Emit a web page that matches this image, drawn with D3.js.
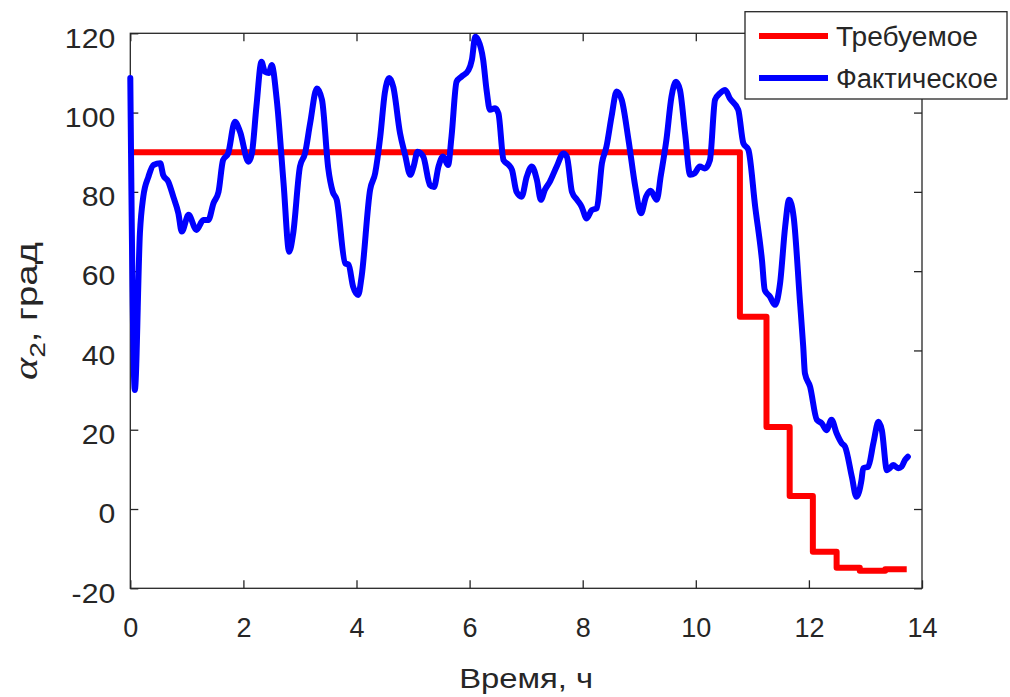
<!DOCTYPE html>
<html><head><meta charset="utf-8">
<script src="https://cdn.jsdelivr.net/npm/d3@7"></script>
<style>
body{margin:0;background:#fff;}
svg{display:block;font-family:"Liberation Sans",Arial,sans-serif;}
</style></head>
<body>
<svg id="c" width="1010" height="697"></svg>
<script>
// ---- data ----
const xTicks = [0,2,4,6,8,10,12,14];
const yTicks = [-20,0,20,40,60,80,100,120];
const seriesNames = ["Требуемое","Фактическое"];
const reqTime  = [0, 10.78, 11.25, 11.66, 12.07, 12.49, 12.90, 13.35, 13.73];
const reqValue = [90, 48.5, 20.7, 3.3, -10.8, -14.8, -15.6, -15.2, -15.2];
const actTime = [0,0.08,0.17,0.23,0.32,0.41,0.53,0.58,0.67,0.76,0.85,0.91,1.03,1.17,1.29,1.38,1.47,1.56,1.64,1.73,1.85,1.94,2.09,2.15,2.23,2.32,2.38,2.45,2.50,2.59,2.71,2.81,2.88,3.00,3.09,3.18,3.30,3.39,3.50,3.58,3.65,3.80,3.86,3.94,4.03,4.09,4.24,4.33,4.42,4.50,4.58,4.65,4.77,4.86,4.95,5.01,5.08,5.18,5.30,5.37,5.45,5.53,5.62,5.68,5.77,5.86,5.98,6.04,6.10,6.15,6.24,6.30,6.36,6.45,6.51,6.60,6.69,6.75,6.83,6.92,7.01,7.10,7.19,7.26,7.33,7.42,7.54,7.66,7.72,7.81,7.90,7.98,8.07,8.16,8.25,8.34,8.42,8.51,8.60,8.69,8.81,8.93,9.03,9.12,9.20,9.31,9.38,9.48,9.57,9.65,9.72,9.81,9.90,9.98,10.07,10.16,10.25,10.34,10.43,10.52,10.60,10.75,10.84,10.93,11.05,11.17,11.22,11.31,11.40,11.49,11.58,11.65,11.73,11.84,11.90,11.93,12.02,12.14,12.23,12.31,12.40,12.49,12.58,12.64,12.76,12.84,12.93,12.96,13.05,13.14,13.23,13.29,13.38,13.43,13.49,13.58,13.64,13.70,13.75];
const actValue = [108.7,30.0,69.6,78.8,83.8,86.8,87.2,84.3,82.6,78.8,74.6,70.0,74.2,70.4,72.9,72.9,77.1,80.0,88.0,89.7,97.7,95.2,87.6,89.7,101.5,112.8,110.3,110.0,112.0,103.2,82.2,64.9,69.5,86.4,89.7,97.3,106.1,103.2,86.0,80.0,78.0,62.0,61.6,56.1,54.0,58.6,80.5,84.7,93.9,104.9,108.7,106.5,94.8,89.3,84.3,86.4,90.1,88.9,81.7,81.2,86.4,88.9,86.8,93.9,107.8,109.1,110.7,113.3,119.1,118.3,113.3,105.7,100.7,101.1,99.8,88.0,86.8,85.5,80.0,78.8,83.8,86.4,83.0,78.0,80.5,82.6,86.4,89.7,88.9,80.0,78.0,76.3,73.3,75.4,75.9,87.2,91.4,99.0,105.3,103.2,93.1,81.3,74.6,78.8,80.3,78.0,84.0,93.1,104.0,107.8,105.7,94.8,84.3,84.7,86.4,85.9,88.0,103.2,104.9,105.7,103.6,100.7,92.3,90.6,76.3,62.8,55.2,53.6,51.5,56.9,71.2,78.0,73.7,52.7,40.9,34.2,30.9,22.5,21.6,19.9,22.5,19.1,16.6,15.7,8.1,3.1,7.3,10.3,10.7,16.6,22.0,19.9,9.8,10.3,11.1,10.3,10.7,12.4,13.2];

// ---- layout ----
const L=130.3, R=922, T=33.3, B=588.3;
const ink = "#262626";
const svg = d3.select("#c");
const x = d3.scaleLinear().domain([0,14]).range([L,R]);
const y = d3.scaleLinear().domain([-20,120]).range([B,T]);
const fmt = d => String(d);

// frame
svg.append("rect").attr("x",L).attr("y",T).attr("width",R-L).attr("height",B-T)
  .attr("fill","none").attr("stroke",ink).attr("stroke-width",1.3);

const tl = 8;
const gx = svg.append("g").attr("transform",`translate(0,${B})`)
  .call(d3.axisBottom(x).tickValues(xTicks).tickFormat(fmt).tickSizeInner(-tl).tickSizeOuter(0).tickPadding(28));
const gxt = svg.append("g").attr("transform",`translate(0,${T})`)
  .call(d3.axisTop(x).tickValues(xTicks).tickSizeInner(-tl).tickSizeOuter(0).tickFormat(""));
const gy = svg.append("g").attr("transform",`translate(${L},0)`)
  .call(d3.axisLeft(y).tickValues(yTicks).tickFormat(fmt).tickSizeInner(-tl).tickSizeOuter(0).tickPadding(15));
const gyr = svg.append("g").attr("transform",`translate(${R},0)`)
  .call(d3.axisRight(y).tickValues(yTicks).tickSizeInner(-tl).tickSizeOuter(0).tickFormat(""));

[gx,gxt,gy,gyr].forEach(g=>{
  g.select(".domain").remove();
  g.selectAll(".tick line").attr("stroke",ink).attr("stroke-width",1.3);
  g.selectAll(".tick text").attr("fill",ink).attr("font-size",27)
    .attr("font-family","Liberation Sans, Arial, sans-serif");
});
gx.selectAll(".tick text").attr("dy","0.71em").attr("y",0)
  .attr("transform","translate(0,30)");
gy.selectAll(".tick text").attr("x",0).attr("dy","0.36em")
  .attr("transform","translate(-15,4) scale(1.12,1)");

// lines
const lineReq = d3.line().x((d,i)=>x(reqTime[i])).y((d,i)=>y(reqValue[i])).curve(d3.curveStepAfter);
const lineAct = d3.line().x((d,i)=>x(actTime[i])).y((d,i)=>y(actValue[i])).curve(d3.curveMonotoneX);
svg.append("path").attr("d",lineReq(reqValue)).attr("fill","none")
  .attr("stroke","#ff0000").attr("stroke-width",6).attr("stroke-linejoin","round");
svg.append("path").attr("d",lineAct(actValue)).attr("fill","none")
  .attr("stroke","#0000ff").attr("stroke-width",6).attr("stroke-linejoin","round").attr("stroke-linecap","round");

// axis labels
svg.append("text").attr("x",(L+R)/2).attr("y",688).attr("text-anchor","middle")
  .attr("font-size",27).attr("fill",ink)
  .attr("textLength",134).attr("lengthAdjust","spacingAndGlyphs").text("Время, ч");
const yl = svg.append("text").attr("text-anchor","middle").attr("font-size",30).attr("fill",ink);
yl.append("tspan").attr("font-family","Liberation Serif, serif").attr("font-style","italic").attr("font-size",33).text("α");
yl.append("tspan").attr("font-size",22).attr("dy",8).text("2");
yl.append("tspan").attr("dy",-8).text(", град");
const ylen = yl.node().getComputedTextLength();
const yk = 138 / ylen;
yl.attr("transform",`translate(37,311) rotate(-90) scale(${yk},1)`);

// legend
const lg = svg.append("g");
lg.append("rect").attr("x",745).attr("y",11.7).attr("width",262).attr("height",87.3)
  .attr("fill","#fff").attr("stroke",ink).attr("stroke-width",1.3);
const legColors = ["#ff0000","#0000ff"];
const legY = [36, 78];
const legLen = [142, 162];
seriesNames.forEach((n,i)=>{
  lg.append("line").attr("x1",759).attr("x2",828).attr("y1",legY[i]).attr("y2",legY[i])
    .attr("stroke",legColors[i]).attr("stroke-width",6);
  lg.append("text").attr("x",836).attr("y",legY[i]+10).attr("font-size",27).attr("fill",ink)
    .attr("textLength",legLen[i]).attr("lengthAdjust","spacingAndGlyphs").text(n);
});
</script>
</body></html>
